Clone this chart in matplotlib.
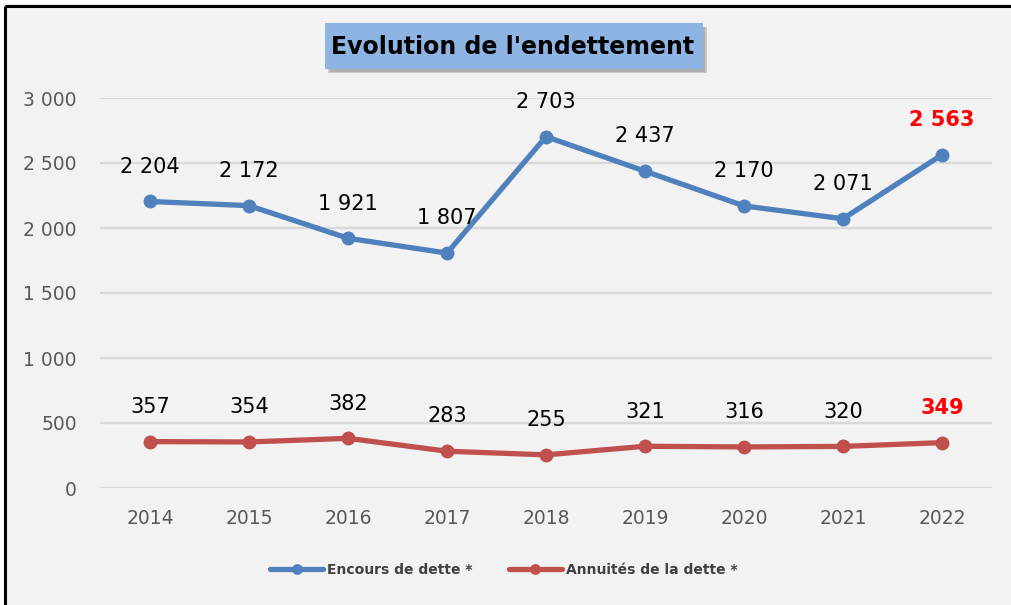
import matplotlib
matplotlib.use('Agg')
from matplotlib import pyplot as plt
from matplotlib.patches import Rectangle
from matplotlib.lines import Line2D

# Data
years = ['2014', '2015', '2016', '2017', '2018', '2019', '2020', '2021', '2022']
encours = [2204, 2172, 1921, 1807, 2703, 2437, 2170, 2071, 2563]
annuites = [357, 354, 382, 283, 255, 321, 316, 320, 349]
yticks = [0, 500, 1000, 1500, 2000, 2500, 3000]

blue = '#4F81BD'
red = '#C0504D'
W, H = 1012, 605


def fmt(v):
    return '{:,}'.format(v).replace(',', ' ')


fig = plt.figure(figsize=(W / 100, H / 100), dpi=100, facecolor='#F2F2F2')

# black frame on top/left only, white margin outside it
fig.add_artist(Rectangle((0, 0), 4 / W, 1, transform=fig.transFigure,
                         facecolor='white', edgecolor='none', zorder=-10))
fig.add_artist(Rectangle((0, 1 - 4 / H), 1, 4 / H, transform=fig.transFigure,
                         facecolor='white', edgecolor='none', zorder=-10))
fig.add_artist(Line2D([5.5 / W, 1011.5 / W], [1 - 5.5 / H] * 2, transform=fig.transFigure,
                      color='black', linewidth=2.2, solid_capstyle='butt'))
fig.add_artist(Line2D([5.5 / W] * 2, [0.5 / H, 1 - 5.5 / H], transform=fig.transFigure,
                      color='black', linewidth=2.2, solid_capstyle='butt'))

ax = fig.add_axes([100.5 / W, 1 - 488 / H, 891 / W, 390 / H])
ax.set_facecolor('none')
x = list(range(len(years)))

ax.plot(x, encours, color=blue, linewidth=3.8, marker='o', markersize=9,
        label='Encours de dette *', zorder=3, solid_capstyle='round')
ax.plot(x, annuites, color=red, linewidth=3.8, marker='o', markersize=9,
        label='Annuités de la dette *', zorder=3, solid_capstyle='round')

last = len(years) - 1
for series in (encours, annuites):
    for i, v in enumerate(series):
        if i == last:
            ax.annotate(fmt(v), (i, v), xytext=(0, 25), textcoords='offset points',
                        ha='center', va='center', fontsize=15, color='#FF0000',
                        fontweight='bold')
        else:
            ax.annotate(fmt(v), (i, v), xytext=(0, 25), textcoords='offset points',
                        ha='center', va='center', fontsize=15, color='black')

ax.set_xlim(-0.5, len(years) - 0.5)
ax.set_ylim(0, 3000)
ax.set_yticks(yticks)
ax.set_yticklabels([fmt(t) for t in yticks])
ax.set_xticks(x)
ax.set_xticklabels(years)
ax.tick_params(axis='both', length=0, labelsize=13.5, labelcolor='#595959')
ax.tick_params(axis='y', pad=17)
ax.tick_params(axis='x', pad=15)
ax.grid(axis='y', color='#D9D9D9', linewidth=1.7)
ax.set_axisbelow(True)
for s in ax.spines.values():
    s.set_visible(False)

# title box with shadow
fig.add_artist(Rectangle((328 / W, 1 - 73 / H), 379 / W, 46 / H, transform=fig.transFigure,
                         facecolor='#8C8C8C', alpha=0.4, edgecolor='none'))
fig.add_artist(Rectangle((330 / W, 1 - 72 / H), 375 / W, 45 / H, transform=fig.transFigure,
                         facecolor='#7F7F7F', alpha=0.35, edgecolor='none'))
fig.add_artist(Rectangle((325 / W, 1 - 69 / H), 378 / W, 46 / H, transform=fig.transFigure,
                         facecolor='#8DB4E2', edgecolor='none'))
fig.text(513 / W, 1 - 47 / H, "Evolution de l'endettement", ha='center', va='center',
         fontsize=17, fontweight='bold', color='black')

fig.legend(loc='center', bbox_to_anchor=(504 / W, 1 - 570 / H), ncol=2, frameon=False,
           handlelength=3.8, handletextpad=0.3, columnspacing=2.6, markerscale=0.75,
           labelcolor='#404040', prop={'weight': 'bold', 'size': 10})

plt.savefig('out.png', dpi=100)
plt.close()
